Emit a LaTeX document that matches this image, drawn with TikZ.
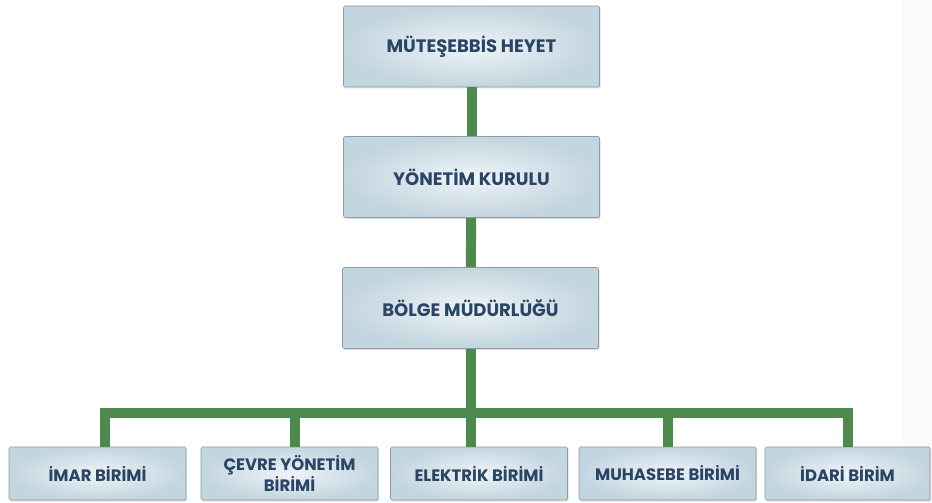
\documentclass[tikz,border=0pt]{standalone}
\usepackage{fontspec}
\setsansfont{Poppins}
\usetikzlibrary{shadows}
\definecolor{barGreen}{HTML}{4E8A4E}
\definecolor{boxEdge}{HTML}{8C9CA6}
\definecolor{boxOuter}{HTML}{C3D5DF}
\definecolor{boxInner}{HTML}{EEF4F7}
\definecolor{textNavy}{HTML}{2A4466}
\begin{document}
\begin{tikzpicture}[x=1pt, y=-1pt,
  unitbox/.style={draw=boxEdge, line width=0.7pt, rounded corners=1.5pt,
    inner color=boxInner, outer color=boxOuter,
    drop shadow={shadow xshift=1pt, shadow yshift=-1.5pt, opacity=0.25},
    font=\sffamily\bfseries, text=textNavy, align=center, inner sep=0pt},
  topbox/.style={unitbox, minimum width=256pt, minimum height=81pt, font=\sffamily\bfseries\fontsize{18}{20}\selectfont},
  lowbox/.style={unitbox, minimum width=177pt, minimum height=53pt, font=\sffamily\bfseries\fontsize{16.5}{16}\selectfont},
  link/.style={draw=barGreen, line width=10pt}]
\useasboundingbox (0,0) rectangle (932,503);
% faint band on the right
\fill[gray!3] (902,0) rectangle (932,503);
% upper chain
\node[topbox] (heyet) at (471.5,46.5) {MÜTEŞEBBİS HEYET};
\node[topbox] (kurul) at (471.5,177) {YÖNETİM KURULU};
\node[topbox] (bolge) at (470.5,308) {BÖLGE MÜDÜRLÜĞÜ};
% units
\node[lowbox] (imar) at (97.5,473.5) {İMAR BİRİMİ};
\node[lowbox] (cevre) at (289.5,473.5) {ÇEVRE YÖNETİM\\BİRİMİ};
\node[lowbox] (elektrik) at (479,473.5) {ELEKTRİK BİRİMİ};
\node[lowbox] (muhasebe) at (667.5,473.5) {MUHASEBE BİRİMİ};
\node[lowbox, minimum width=165pt] (idari) at (847.5,473.5) {İDARİ BİRİM};
\coordinate (bar) at (0,413);
% connectors
\begin{scope}[on background layer/.try]
\draw[link] (heyet) -- (kurul);
\draw[link] (kurul) -- (bolge);
\draw[link] (bolge.south) -- (bolge.south |- elektrik.north);
\draw[link, line join=miter] ([xshift=7pt]imar.north) |- (idari.north |- bar) -- (idari.north);
\draw[link] ([xshift=5pt]cevre.north) -- ([xshift=5pt]cevre.north |- bar);
\draw[link] (muhasebe.north) -- (muhasebe.north |- bar);
\end{scope}
\end{tikzpicture}
\end{document}
